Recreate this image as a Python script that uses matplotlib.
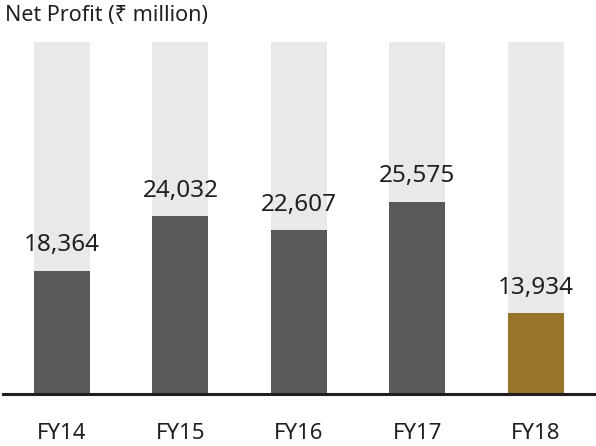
import matplotlib.pyplot as plt

# Data
years = ["FY14", "FY15", "FY16", "FY17", "FY18"]
net_profit = [18364, 24032, 22607, 25575, 13934]
bar_colors = ["#58595b", "#58595b", "#58595b", "#58595b", "#97732c"]

plt.rcParams['font.family'] = ['Noto Sans', 'DejaVu Sans']

fig = plt.figure(figsize=(5.96, 4.46), dpi=100)
ax = fig.add_axes([3 / 596, 52 / 446, 593 / 596, 352 / 446])

# axis starts above zero, like the original artwork
y_min, y_max = 5500, 42250
x = list(range(len(years)))

# light background bars, full height
ax.bar(x, [y_max] * len(x), width=0.473, color="#e9e9e9", zorder=1)
ax.bar(x, net_profit, width=0.473, color=bar_colors, zorder=2)

for xi, v in zip(x, net_profit):
    ax.annotate(f"{v:,}", xy=(xi, v), xytext=(0, 14), textcoords='offset points',
                ha='center', va='baseline', fontsize=17.5, color="#231f20")

ax.set_xlim(-0.498, 4.51)
ax.set_ylim(y_min, y_max)
ax.set_xticks(x)
ax.set_xticklabels(years, fontsize=16, color="#231f20")
ax.tick_params(axis='x', length=0, pad=21)
ax.set_yticks([])

for side in ['top', 'right', 'left']:
    ax.spines[side].set_visible(False)
ax.spines['bottom'].set_linewidth(2.2)
ax.spines['bottom'].set_color("#231f20")
ax.spines['bottom'].set_zorder(3)

fig.text(5 / 596, 1 - 5 / 446, "Net Profit (₹ million)", ha='left', va='top',
         fontsize=15.5, color="#231f20")

fig.savefig("out.png", dpi=100)
